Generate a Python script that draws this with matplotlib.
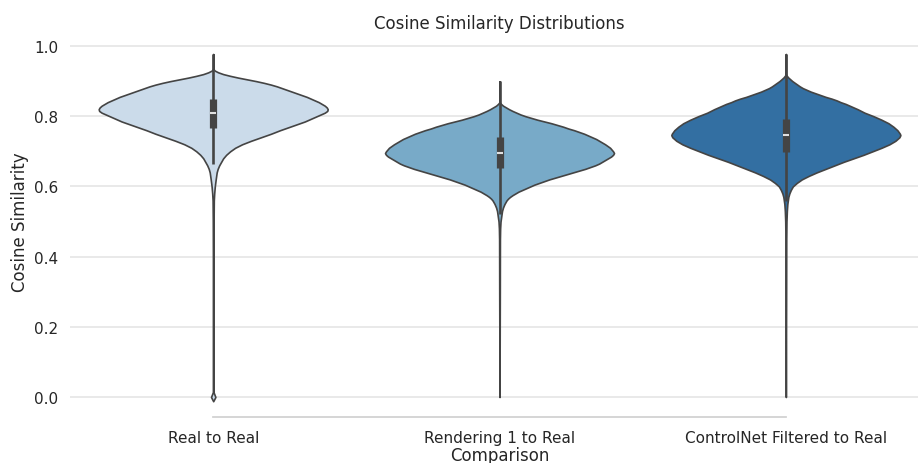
import numpy as np
import matplotlib
matplotlib.use("Agg")
import matplotlib.pyplot as plt
import seaborn as sns

categories = ["Real to Real", "Rendering 1 to Real", "ControlNet Filtered to Real"]

# density profiles: cosine similarity level -> relative half width of the violin
real_levels = [0.977, 0.935, 0.930, 0.925, 0.920, 0.915, 0.910, 0.905, 0.900, 0.895,
               0.890, 0.885, 0.880, 0.875, 0.870, 0.865, 0.860, 0.855, 0.850, 0.845,
               0.840, 0.835, 0.830, 0.825, 0.820, 0.815, 0.810, 0.805, 0.800, 0.795,
               0.790, 0.785, 0.780, 0.775, 0.770, 0.765, 0.760, 0.750, 0.740, 0.730,
               0.720, 0.710, 0.700, 0.690, 0.680, 0.670, 0.660, 0.650, 0.640, 0.620,
               0.600, 0.580, 0.560, 0.500, 0.400, 0.200, 0.014, 0.000, -0.012]
real_width = [0.0, 0.0, 1.5, 5, 10, 17, 25, 34, 43, 51,
              58, 64, 69, 74, 79, 84, 89, 94, 98, 102,
              106, 109, 112, 114, 115, 114.5, 112, 108, 104, 100,
              96, 92, 87, 82, 77, 72, 67, 58, 48, 38,
              29, 22, 17, 13, 10, 8, 6, 4.5, 3.5, 2.5,
              1.6, 1.0, 0.6, 0.4, 0.3, 0.3, 0.3, 2.2, 0.0]

render_levels = [0.899, 0.840, 0.835, 0.830, 0.825, 0.820, 0.815, 0.810, 0.805, 0.800,
                 0.795, 0.790, 0.785, 0.780, 0.775, 0.770, 0.765, 0.760, 0.755, 0.750,
                 0.745, 0.740, 0.735, 0.730, 0.720, 0.710, 0.700, 0.695, 0.690, 0.685,
                 0.680, 0.675, 0.670, 0.665, 0.660, 0.655, 0.650, 0.645, 0.640, 0.635,
                 0.630, 0.625, 0.620, 0.615, 0.610, 0.605, 0.600, 0.595, 0.590, 0.585,
                 0.580, 0.575, 0.570, 0.565, 0.560, 0.550, 0.540, 0.530, 0.520, 0.510,
                 0.500, 0.480, 0.450, 0.300, 0.000]
render_width = [0.0, 0.0, 1.5, 3.5, 6.5, 9.5, 13, 17, 21, 26,
                32, 38, 45, 52, 58, 64, 69, 75, 80, 85,
                89, 93, 97, 100, 106, 111, 114, 115, 114, 112,
                109, 106, 103, 100, 96, 91, 86, 80, 74, 68,
                62, 56, 50, 45, 40, 35, 31, 27, 23, 19,
                16, 13, 10.5, 8.5, 7, 5, 3.5, 2.5, 2, 1.5,
                1.0, 0.6, 0.4, 0.3, 0.0]

control_levels = [0.977, 0.920, 0.915, 0.910, 0.905, 0.900, 0.895, 0.890, 0.885, 0.880,
                  0.875, 0.870, 0.865, 0.860, 0.855, 0.850, 0.845, 0.840, 0.835, 0.830,
                  0.820, 0.810, 0.800, 0.790, 0.780, 0.770, 0.760, 0.750, 0.746, 0.740,
                  0.730, 0.720, 0.710, 0.700, 0.690, 0.680, 0.670, 0.660, 0.650, 0.640,
                  0.630, 0.620, 0.610, 0.600, 0.590, 0.580, 0.570, 0.560, 0.550, 0.530,
                  0.500, 0.450, 0.300, 0.000]
control_width = [0.0, 0.0, 1, 2.5, 4.5, 6.5, 9, 11.5, 14, 17,
                 21, 25, 30, 35, 40, 46, 51, 55, 60, 64,
                 72, 79, 88, 96, 103, 108, 112, 114.5, 115, 114,
                 110, 104, 96, 87, 78, 68, 58, 49, 40, 31,
                 23, 16, 11, 7, 5, 3.5, 2.5, 2, 1.5, 1.0,
                 0.6, 0.4, 0.3, 0.0]

# inner box summary: quartiles, median and whisker ends
q1 = [0.767, 0.652, 0.698]
medians = [0.810, 0.694, 0.746]
q3 = [0.850, 0.740, 0.791]
whisker_lo = [0.664, 0.520, 0.558]
whisker_hi = [0.977, 0.899, 0.977]

profiles = [(real_levels, real_width), (render_levels, render_width),
            (control_levels, control_width)]

colors = [sns.desaturate(c, 0.75) for c in sns.color_palette("Blues", 3)]
dark = "#444444"
text_color = "#262626"

fig = plt.figure(figsize=(9.18, 4.64), dpi=100)
ax = fig.add_axes([0.0763, 0.1293, 0.9357, 0.7845])

stats = []
for (lv, wd), med in zip(profiles, medians):
    lv = np.array(lv)
    stats.append({"coords": lv, "vals": np.array(wd, dtype=float),
                  "mean": med, "median": med, "min": lv.min(), "max": lv.max()})

pos = np.arange(len(categories))
parts = ax.violin(stats, positions=pos, widths=0.8,
                  showmeans=False, showextrema=False, showmedians=False)
for body, c in zip(parts["bodies"], colors):
    body.set_facecolor(c)
    body.set_edgecolor(dark)
    body.set_linewidth(1.2)
    body.set_alpha(1)
    body.set_zorder(2)

ax.vlines(pos, whisker_lo, whisker_hi, color=dark, lw=1.9, zorder=3)
ax.vlines(pos, q1, q3, color=dark, lw=5.2, zorder=3)
ax.scatter(pos, medians, marker="_", s=25, color="#e0e0e0", linewidths=1.5, zorder=4)

ax.set_xlim(-0.5, 2.5)
ax.set_ylim(-0.0171, 1.02)
ax.set_yticks([0.0, 0.2, 0.4, 0.6, 0.8, 1.0])
ax.set_xticks(pos)
ax.set_xticklabels(categories)
ax.yaxis.grid(True, color="#e6e6e6", lw=1.25, zorder=0)
ax.set_axisbelow(True)
ax.tick_params(axis="both", length=0, labelsize=11, colors=text_color)
ax.tick_params(axis="x", pad=9.5)
ax.tick_params(axis="y", pad=8.5)

for s in ["left", "right", "top"]:
    ax.spines[s].set_visible(False)
ax.spines["bottom"].set_position(("outward", 10))
ax.spines["bottom"].set_bounds(0, 2)
ax.spines["bottom"].set_color("#d0d0d0")
ax.spines["bottom"].set_linewidth(1.25)

ax.set_title("Cosine Similarity Distributions", fontsize=12, color=text_color, pad=8)
ax.set_xlabel("Comparison", fontsize=12, color=text_color, labelpad=1)
ax.set_ylabel("Cosine Similarity", fontsize=12, color=text_color, labelpad=3.5)

fig.savefig("out.png", dpi=100)
